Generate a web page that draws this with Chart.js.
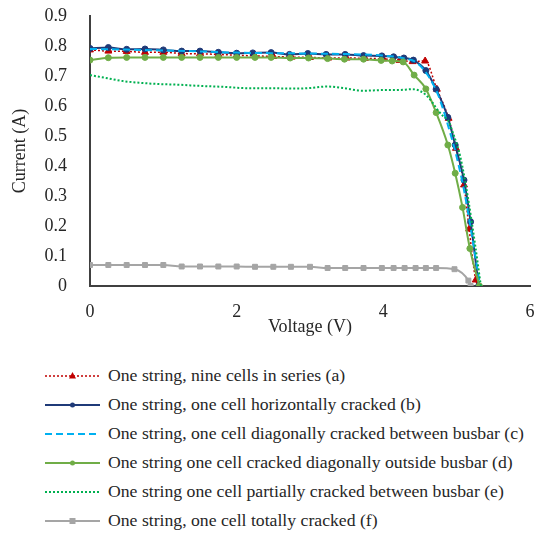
<!DOCTYPE html>
<html><head><meta charset="utf-8">
<script src="https://cdn.jsdelivr.net/npm/chart.js@4"></script>
<style>
html,body{margin:0;padding:0;background:#fff;}
#wrap{position:relative;width:536px;height:554px;overflow:hidden;}
#chartBox{position:absolute;left:0;top:0;width:536px;height:345px;}
#legend{position:absolute;left:0;top:361px;width:536px;font-family:"Liberation Serif","Times New Roman",serif;font-size:17.7px;color:#262626;}
.row{height:29px;display:flex;align-items:center;white-space:nowrap;}
.row svg{margin-left:45px;margin-right:8px;flex:none;}
</style></head>
<body>
<div id="wrap">
  <div id="chartBox"><canvas id="c"></canvas></div>
  <div id="legend"></div>
</div>
<script>
// ---- data ----
const seriesLabels = [
  "One string, nine cells in series (a)",
  "One string, one cell horizontally cracked (b)",
  "One string, one cell diagonally cracked between busbar (c)",
  "One string one cell cracked diagonally outside busbar (d)",
  "One string one cell partially cracked between busbar (e)",
  "One string, one cell totally cracked (f)"
];
const voltA = [0,0.25,0.5,0.75,1,1.25,1.5,1.75,2,2.25,2.5,2.75,3,3.25,3.5,3.75,4,4.22,4.4,4.57,4.73,4.89,4.99,5.1,5.17,5.26,5.3];
const currA = [0.787,0.783,0.782,0.779,0.779,0.775,0.774,0.772,0.769,0.767,0.765,0.763,0.762,0.76,0.76,0.759,0.757,0.752,0.748,0.75,0.656,0.559,0.459,0.337,0.19,0.02,0];
const voltB = [0,0.25,0.5,0.75,1,1.25,1.5,1.75,2,2.22,2.47,2.72,2.97,3.22,3.48,3.73,3.98,4.14,4.28,4.41,4.58,4.72,4.88,4.98,5.1,5.19,5.3];
const currB = [0.792,0.795,0.789,0.79,0.787,0.783,0.783,0.779,0.776,0.777,0.778,0.772,0.775,0.772,0.772,0.768,0.767,0.764,0.76,0.753,0.718,0.656,0.562,0.47,0.353,0.214,0];
const voltC = [0,0.5,1,1.5,2,2.5,3,3.5,4,4.3,4.45,4.6,4.75,4.9,5.0,5.1,5.2,5.32];
const currC = [0.79,0.788,0.785,0.782,0.778,0.776,0.775,0.773,0.768,0.758,0.745,0.705,0.635,0.52,0.43,0.32,0.18,0];
const voltD = [0,0.25,0.5,0.75,1,1.25,1.5,1.75,2,2.25,2.47,2.73,2.98,3.24,3.47,3.73,3.97,4.12,4.27,4.42,4.58,4.72,4.88,4.98,5.08,5.18,5.31];
const currD = [0.753,0.761,0.762,0.762,0.762,0.762,0.762,0.762,0.762,0.762,0.762,0.76,0.76,0.758,0.756,0.756,0.752,0.75,0.747,0.703,0.657,0.578,0.47,0.376,0.262,0.125,0];
const voltE = [0,0.25,0.45,0.7,0.95,1.2,1.5,1.8,2.2,2.5,2.8,3.0,3.24,3.45,3.72,4.0,4.2,4.4,4.5,4.58,4.66,4.74,4.82,4.88,4.95,5.05,5.15,5.25,5.33];
const currE = [0.703,0.692,0.683,0.677,0.673,0.671,0.667,0.664,0.659,0.659,0.658,0.66,0.665,0.66,0.651,0.653,0.653,0.656,0.65,0.637,0.615,0.587,0.565,0.553,0.51,0.43,0.3,0.14,0];
const voltF = [0,0.25,0.5,0.75,1,1.25,1.5,1.75,2,2.25,2.5,2.74,3,3.24,3.48,3.73,3.98,4.14,4.29,4.44,4.58,4.72,4.97,5.16,5.19];
const currF = [0.07,0.07,0.07,0.07,0.07,0.065,0.065,0.065,0.065,0.064,0.064,0.064,0.064,0.06,0.06,0.06,0.06,0.06,0.06,0.06,0.06,0.06,0.056,0.018,0];
const xTicks = [0,2,4,6];
const yTicks = [0,0.1,0.2,0.3,0.4,0.5,0.6,0.7,0.8,0.9];

// ---- build ----
const pts = (xs, ys) => xs.map((x, i) => ({x, y: ys[i]}));
const FONT = '"Liberation Serif","Times New Roman",serif';
const TXT = '#262626';
const styles = [
  {color:'#C00000', dash:[2,2], width:1.5, point:'triangle', r:4},
  {color:'#1F3A78', dash:[], width:2, point:'circle', r:3},
  {color:'#00B0F0', dash:[7,4], width:2, point:'circle', r:0},
  {color:'#70AD47', dash:[], width:2, point:'circle', r:3},
  {color:'#00B050', dash:[2,2], width:2, point:'circle', r:0},
  {color:'#A5A5A5', dash:[], width:2, point:'rect', r:3.5}
];
const seriesData = [pts(voltA,currA), pts(voltB,currB), pts(voltC,currC), pts(voltD,currD), pts(voltE,currE), pts(voltF,currF)];

const datasets = seriesData.map((d, i) => ({
  label: seriesLabels[i],
  data: d,
  showLine: true,
  borderColor: styles[i].color,
  backgroundColor: styles[i].color,
  borderWidth: styles[i].width,
  borderDash: styles[i].dash,
  pointStyle: styles[i].point,
  pointRadius: styles[i].r,
  pointBorderWidth: 1,
  pointBackgroundColor: styles[i].color,
  pointBorderColor: styles[i].color,
  cubicInterpolationMode: 'monotone',
  order: 5 - i
}));

new Chart(document.getElementById('c'), {
  type: 'scatter',
  data: {datasets},
  options: {
    responsive: true,
    maintainAspectRatio: false,
    animation: false,
    layout: {padding: {top: 16, right: 6, left: 0, bottom: 0}},
    plugins: {legend: {display: false}, tooltip: {enabled: false}},
    scales: {
      x: {
        type: 'linear', min: 0, max: 6,
        afterBuildTicks: s => { s.ticks = xTicks.map(v => ({value: v})); },
        afterFit: s => { s.height = 59; s.paddingRight = 0; s.paddingLeft = 0; },
        grid: {display: false},
        border: {display: true, color: '#404040', width: 2},
        ticks: {font: {family: FONT, size: 18}, color: TXT, padding: 7},
        title: {display: true, text: 'Voltage (V)', font: {family: FONT, size: 18}, color: TXT, padding: {top: 0, bottom: 7}}
      },
      y: {
        type: 'linear', min: 0, max: 0.9,
        afterBuildTicks: s => { s.ticks = yTicks.map(v => ({value: v})); },
        afterFit: s => { s.width = 90; s.paddingTop = 0; s.paddingBottom = 0; },
        grid: {display: false},
        border: {display: true, color: '#404040', width: 2},
        ticks: {font: {family: FONT, size: 18}, color: TXT, padding: 15,
          callback: v => v === 0 ? '0' : v.toFixed(1)},
        title: {display: true, text: 'Current (A)', font: {family: FONT, size: 18}, color: TXT, padding: {top: 9, bottom: 0}}
      }
    }
  }
});

// ---- legend (HTML, built from the datasets) ----
const leg = document.getElementById('legend');
datasets.forEach((ds, i) => {
  const st = styles[i];
  const row = document.createElement('div');
  row.className = 'row';
  const ns = 'http://www.w3.org/2000/svg';
  const svg = document.createElementNS(ns, 'svg');
  svg.setAttribute('width', 55); svg.setAttribute('height', 12);
  const ln = document.createElementNS(ns, 'line');
  ln.setAttribute('x1', 0); ln.setAttribute('x2', 55);
  ln.setAttribute('y1', 6); ln.setAttribute('y2', 6);
  ln.setAttribute('stroke', st.color);
  ln.setAttribute('stroke-width', st.width);
  if (st.dash.length) ln.setAttribute('stroke-dasharray', st.dash.join(','));
  svg.appendChild(ln);
  if (st.r > 0) {
    let m;
    if (st.point === 'triangle') {
      m = document.createElementNS(ns, 'polygon');
      m.setAttribute('points', '27.5,2 31,8.5 24,8.5');
    } else if (st.point === 'rect') {
      m = document.createElementNS(ns, 'rect');
      m.setAttribute('x', 24.5); m.setAttribute('y', 3); m.setAttribute('width', 6); m.setAttribute('height', 6);
    } else {
      m = document.createElementNS(ns, 'circle');
      m.setAttribute('cx', 27.5); m.setAttribute('cy', 6); m.setAttribute('r', 2.5);
    }
    m.setAttribute('fill', st.color);
    svg.appendChild(m);
  }
  row.appendChild(svg);
  const sp = document.createElement('span');
  sp.textContent = ds.label;
  row.appendChild(sp);
  leg.appendChild(row);
});
</script>
</body></html>
